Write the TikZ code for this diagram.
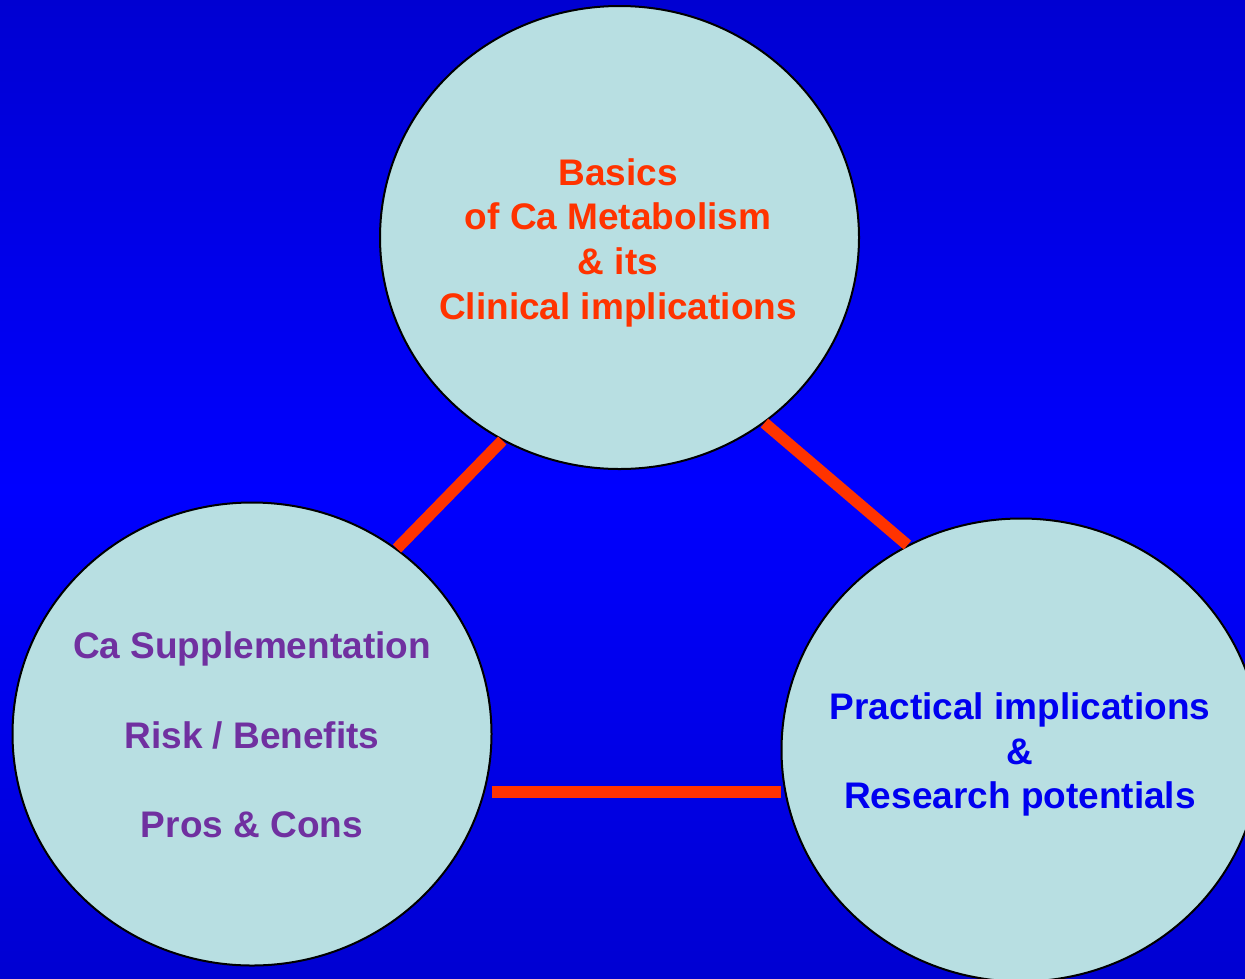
\documentclass[tikz,border=0pt]{standalone}
\usepackage{fontspec}
\setmainfont{Liberation Sans}
\usetikzlibrary{shapes.geometric}
\definecolor{bgdark}{RGB}{0,0,165}
\definecolor{bgbright}{RGB}{0,0,255}
\definecolor{discfill}{RGB}{184,223,226}
\definecolor{linkred}{RGB}{255,51,0}
\definecolor{topicred}{RGB}{255,51,0}
\definecolor{topicpurple}{RGB}{112,48,160}
\definecolor{topicblue}{RGB}{0,0,240}
% dark edges, bright band through the middle
\pgfdeclareverticalshading{slidebg}{100bp}{%
  color(0bp)=(bgdark); color(50bp)=(bgbright); color(100bp)=(bgdark)}
\begin{document}
\begin{tikzpicture}[x=1pt,y=-1pt,
  disc/.style={ellipse, draw=black, line width=2pt, fill=discfill,
    minimum width=479pt, minimum height=463pt, inner sep=0pt},
  topic/.style={align=center, inner sep=0pt,
    font=\bfseries\fontsize{37}{44.7}\selectfont},
  link/.style={draw=linkred, line width=11.5pt, line cap=butt}]
  \useasboundingbox (0pt,0pt) rectangle (1245pt,-978pt);
  \clip (0pt,0pt) rectangle (1245pt,-978pt);
  % slide background
  \shade[shading=slidebg] (0pt,0pt) rectangle (1245pt,-978pt);

  % the three topics
  \node[disc] (basics) at (619.5,237.5) {};
  \node[disc] (supp) at (252,734) {};
  \node[disc] (pract) at (1021,750) {};

  \node[topic, text=topicred, xshift=-1.5pt, yshift=-5pt] (basicsText)
    at (basics.center) {Basics\\of Ca Metabolism\\\& its\\Clinical implications};
  \node[topic, text=topicpurple, yshift=-1pt] (suppText)
    at (supp.center) {Ca Supplementation\\[44.7pt]Risk / Benefits\\[44.7pt]Pros \& Cons};
  \node[topic, text=topicblue, xshift=-1pt, yshift=-4.7pt] (practText)
    at (pract.center) {Practical implications\\\&\\Research potentials};

  % links between the topics
  \draw[link] (basics.240.8) -- (supp.52.1);
  \draw[link] (basics.308.5) -- (pract.119.7);
  \draw[link, line width=12pt] ([xshift=7pt]supp.-14.2) -- (supp.-14.2 -| pract.west);
\end{tikzpicture}
\end{document}
